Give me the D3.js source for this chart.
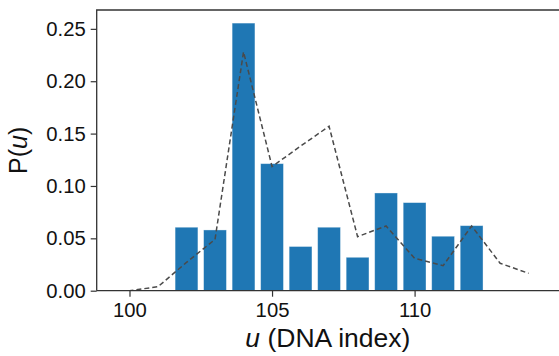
<!DOCTYPE html>
<html><head><meta charset="utf-8">
<script src="https://cdn.jsdelivr.net/npm/d3@7/dist/d3.min.js"></script>
<style>body{margin:0;background:#fff;} svg{display:block;}</style>
</head><body>
<script>
const barPositions = [102,103,104,105,106,107,108,109,110,111,112];
const barValues = [0.0606,0.058,0.2555,0.1213,0.0422,0.0606,0.0319,0.0933,0.0841,0.052,0.0621];
const linePositions = [98,99,100,101,102,103,104,105,106,107,108,109,110,111,112,113,114];
const lineValues = [0,0,0,0.0038,0.027,0.049,0.228,0.1185,0.138,0.157,0.0516,0.0618,0.031,0.0239,0.0618,0.0262,0.0166];
const xTicks = [100,105,110];
const yTicks = [0,0.05,0.10,0.15,0.20,0.25];

const W=559,H=356;
const m={left:96.7,top:10,right:560,bottom:290.7};
const svg=d3.select("body").append("svg").attr("width",W).attr("height",H);
const x=d3.scaleLinear().domain([98.85,115.1]).range([m.left,m.right]);
const y=d3.scaleLinear().domain([0,0.268]).range([m.bottom,m.top]);
const font="'Liberation Sans', Arial, sans-serif";

svg.append("defs").append("clipPath").attr("id","clip").append("rect")
  .attr("x",m.left).attr("y",m.top).attr("width",m.right-m.left).attr("height",m.bottom-m.top);

const bw = x(0.8)-x(0);
svg.append("g").selectAll("rect").data(barPositions).join("rect")
  .attr("x",(d)=>x(d)-bw/2).attr("width",bw)
  .attr("y",(d,i)=>y(barValues[i])).attr("height",(d,i)=>y(0)-y(barValues[i]))
  .attr("fill","#1f77b4").attr("stroke","#ffffff").attr("stroke-opacity",0.45).attr("stroke-width",0.8);

const line=d3.line().x((d,i)=>x(linePositions[i])).y(d=>y(d));
svg.append("path").attr("clip-path","url(#clip)").attr("d",line(lineValues))
  .attr("fill","none").attr("stroke","#4a4a4a").attr("stroke-width",1.5).attr("stroke-dasharray","5,3");

const xAxis=svg.append("g").attr("transform",`translate(0,${m.bottom})`)
  .call(d3.axisBottom(x).tickValues(xTicks).tickSize(6).tickPadding(6).tickFormat(d3.format("d")));
const yAxis=svg.append("g").attr("transform",`translate(${m.left},0)`)
  .call(d3.axisLeft(y).tickValues(yTicks).tickSize(6).tickPadding(5).tickFormat(d3.format(".2f")));
[xAxis,yAxis].forEach(a=>{
  a.select(".domain").remove();
  a.selectAll(".tick line").attr("stroke","#333").attr("stroke-width",1.2);
  a.selectAll(".tick text").attr("font-family",font).attr("font-size",20.3).attr("fill","#111");
});
// spines
svg.append("path").attr("d",`M${m.left},${m.bottom}H${m.right}M${m.left},${m.bottom}V${m.top}H${m.right}`)
  .attr("fill","none").attr("stroke","#333").attr("stroke-width",1.3);

const xl=svg.append("text").attr("x",(m.left+559)/2).attr("y",347).attr("text-anchor","middle")
  .attr("font-family",font).attr("font-size",26.5).attr("fill","#111");
xl.append("tspan").attr("font-style","italic").text("u");
xl.append("tspan").text(" (DNA index)");

const yl=svg.append("text").attr("transform",`translate(27,${(m.top+m.bottom)/2}) rotate(-90)`)
  .attr("text-anchor","middle").attr("font-family",font).attr("font-size",25).attr("fill","#111");
yl.append("tspan").text("P(");
yl.append("tspan").attr("font-style","italic").text("u");
yl.append("tspan").text(")");
</script>
</body></html>
